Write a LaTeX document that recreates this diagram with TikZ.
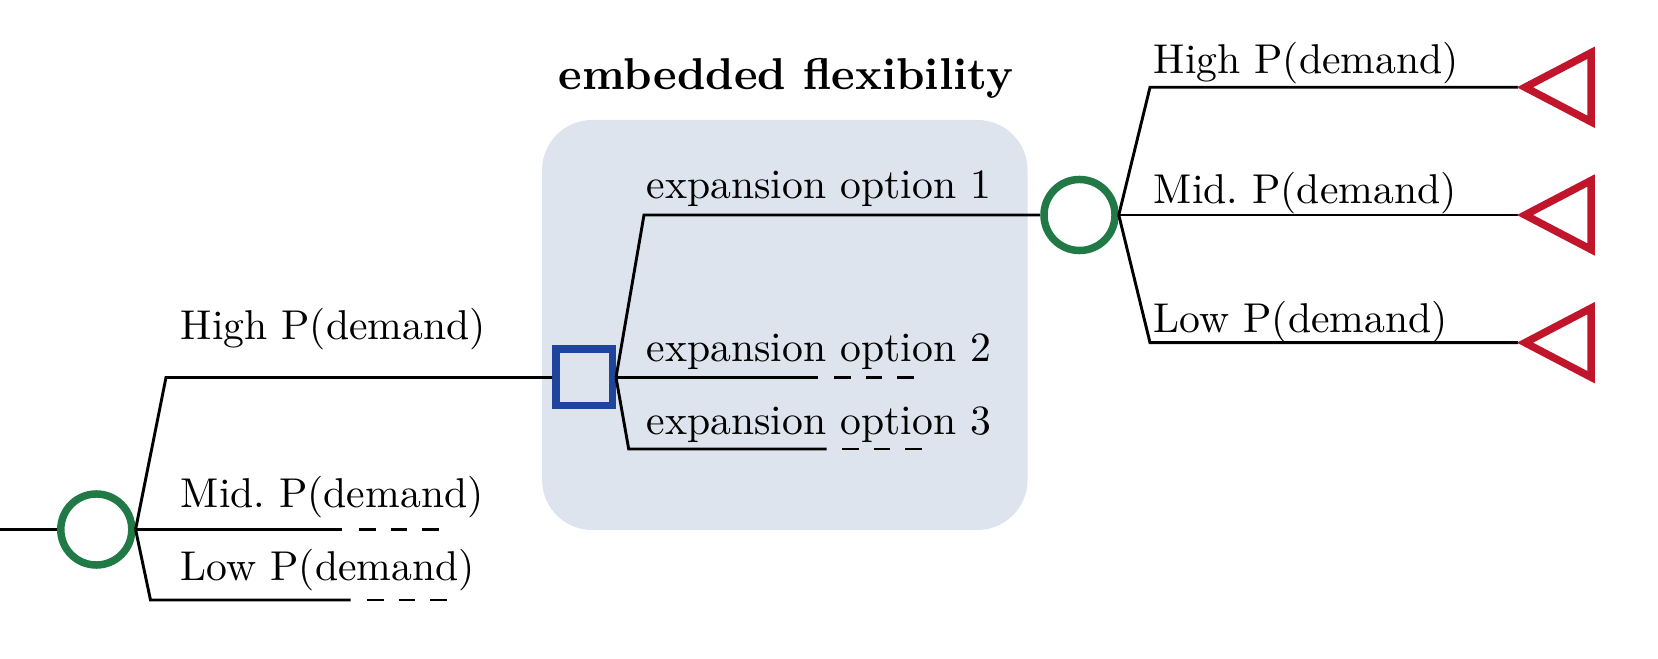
\documentclass[tikz,border=0pt]{standalone}
\usetikzlibrary{calc}
\definecolor{cgreen}{RGB}{33,122,70}
\definecolor{cblue}{RGB}{31,68,156}
\definecolor{cred}{RGB}{192,21,42}
\definecolor{cbox}{RGB}{222,228,238}
\begin{document}
\begin{tikzpicture}[x=0.24pt,y=-0.24pt,
  branch/.style={line width=0.7pt,black},
  dashpart/.style={line width=0.7pt,black,dash pattern=on 4pt off 3.6pt},
  chance/.style={circle,draw=cgreen,line width=1.8pt,minimum size=17.05pt,inner sep=0pt},
  decision/.style={rectangle,draw=cblue,line width=1.8pt,minimum size=13.56pt,inner sep=0pt},
  term/.style={draw=cred,line width=1.8pt,line join=miter},
  lbl/.style={anchor=base west,inner sep=0pt,font=\normalsize}]
\useasboundingbox (0,0) rectangle (1658,659);
% shaded box
\node[fill=cbox,rounded corners=12pt,minimum width=116.5pt,minimum height=98.4pt,inner sep=0pt] (box) at (784.8,325) {};
\node[anchor=base,inner sep=0pt,font=\bfseries\fontsize{10.7}{13}\selectfont] (title) at (786,90) {embedded flexibility};
% decision nodes
\coordinate (start) at (0,529.5);
\node[chance] (c1) at (96.3,529.5) {};
\node[decision,fill=cbox] (sq) at (584,377.5) {};
\node[chance] (c2) at (1079.5,215) {};
% first chance node branches
\coordinate (b1h) at (166,377.5);
\coordinate (b1l) at (150.5,600);
\coordinate (m1e) at (342.3,529.5);
\coordinate (m1d) at (359,529.5);
\coordinate (l1e) at (350.6,600);
\coordinate (l1d) at (367,600);
\draw[branch] (start) -- (c1.west);
\draw[branch] (c1.east) -- (b1h) -- (sq.west);
\draw[branch] (c1.east) -- (m1e);
\draw[dashpart] (m1d) -- ++(80,0) coordinate (m1f);
\draw[branch] (c1.east) -- (b1l) -- (l1e);
\draw[dashpart] (l1d) -- ++(80,0) coordinate (l1f);
\node[lbl] (lh) at (180,340) {High P(demand)};
\node[lbl] (lm) at (180,507.3) {Mid.\ P(demand)};
\node[lbl] (ll) at (180,580.7) {Low P(demand)};
% decision branches
\coordinate (e1b) at (644,215);
\coordinate (e2e) at (817.8,377.5);
\coordinate (e2d) at (834,377.5);
\coordinate (e3b) at (628.7,449);
\coordinate (e3e) at (826.6,449);
\coordinate (e3d) at (842,449);
\draw[branch] (sq.east) -- (e1b) -- (c2.west);
\draw[branch] (sq.east) -- (e2e);
\draw[dashpart] (e2d) -- ++(80,0) coordinate (e2f);
\draw[branch] (sq.east) -- (e3b) -- (e3e);
\draw[dashpart] (e3d) -- ++(80,0) coordinate (e3f);
\node[lbl] (o1) at (646,199) {expansion option 1};
\node[lbl] (o2) at (646,361.7) {expansion option 2};
\node[lbl] (o3) at (646,435) {expansion option 3};
% second chance node branches
\coordinate (r1b) at (1150,87.3);
\coordinate (r3b) at (1150,342.7);
\coordinate (t1) at (1518,87.3);
\coordinate (t2) at (1518,215);
\coordinate (t3) at (1518,342.7);
\draw[branch] (c2.east) -- (r1b) -- (t1);
\draw[branch] (c2.east) -- (t2);
\draw[branch] (c2.east) -- (r3b) -- (t3);
\foreach \t in {t1,t2,t3}{
  \draw[term] ($(\t)+(7,0)$) -- ++(66,-34.5) -- ++(0,69) -- cycle;
}
\node[lbl] (rh) at (1153,73.3) {High P(demand)};
\node[lbl] (rm) at (1153,203.3) {Mid.\ P(demand)};
\node[lbl] (rl) at (1153,332.7) {Low P(demand)};
\end{tikzpicture}
\end{document}
